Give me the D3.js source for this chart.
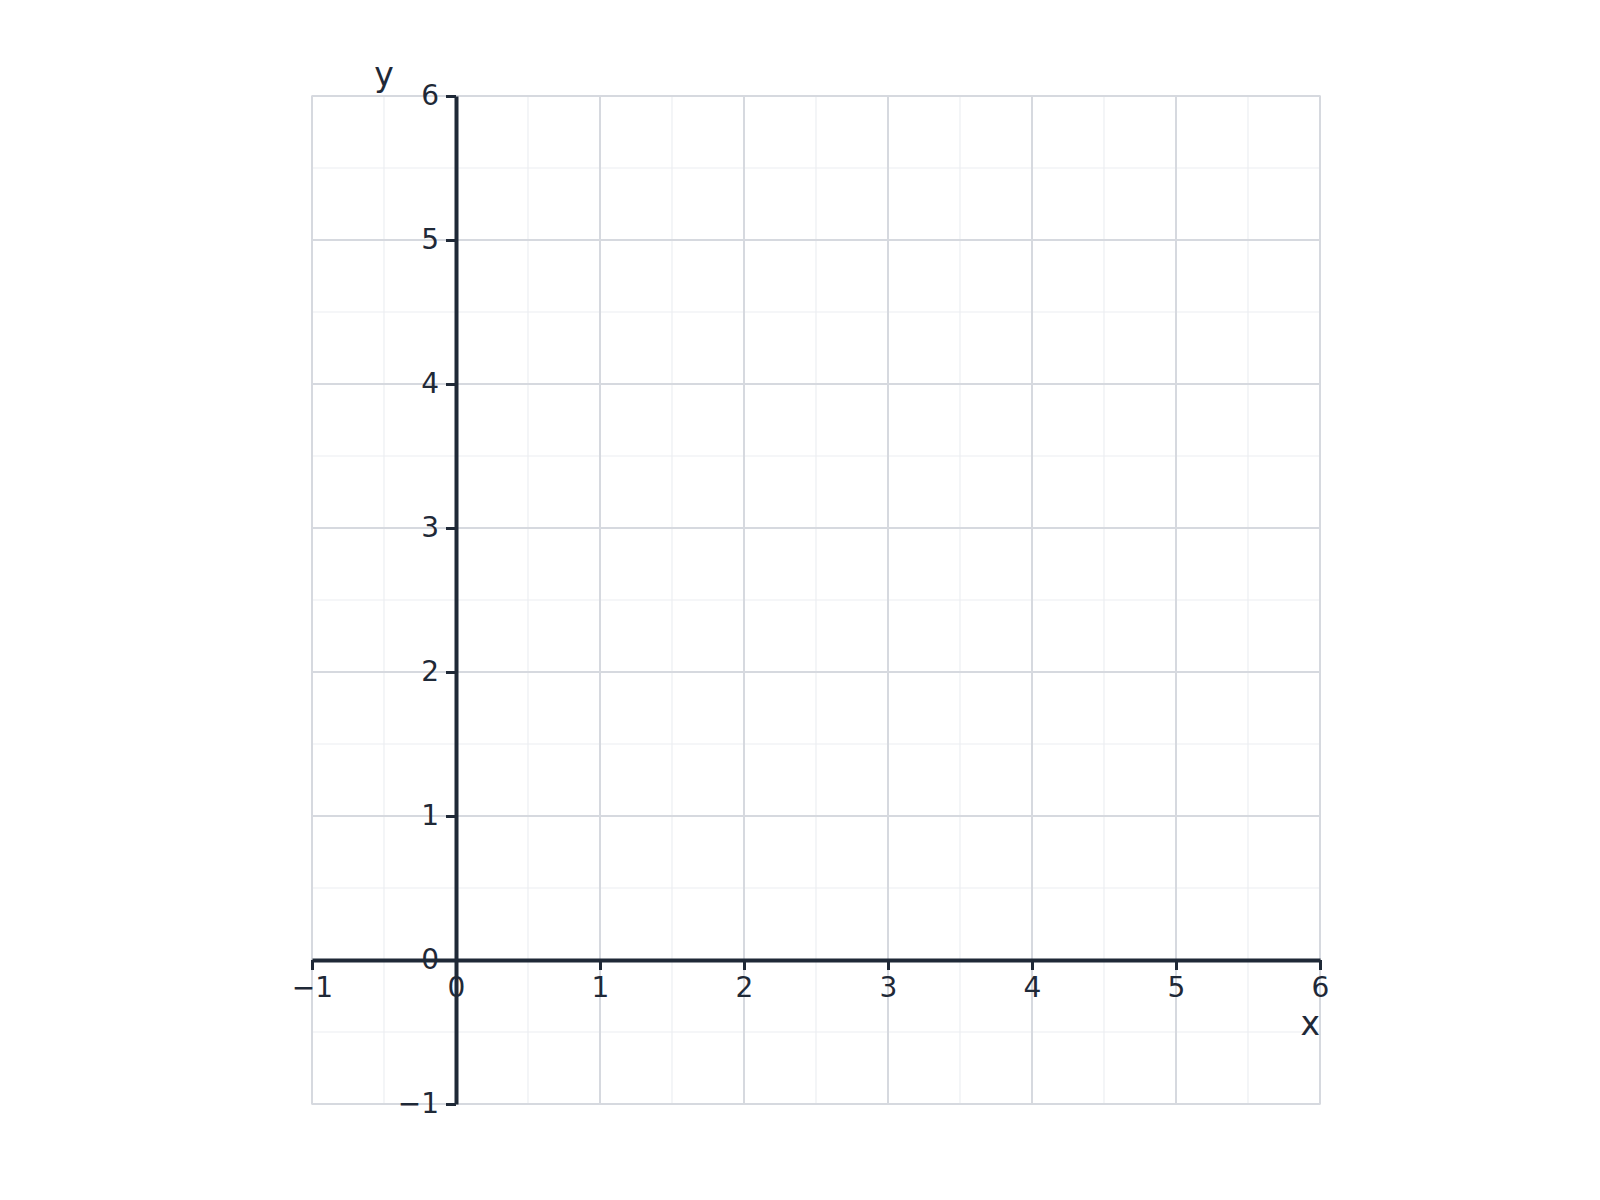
<!DOCTYPE html>
<html>
<head>
<meta charset="utf-8">
<script src="https://cdn.jsdelivr.net/npm/d3@7"></script>
<style>
  body { margin: 0; background: #fff; }
  text { font-family: "DejaVu Sans", sans-serif; fill: #1f2937; }
</style>
</head>
<body>
<div id="chart"></div>
<script>
    // axis ranges and ticks
    var xDomain = [-1, 6];
    var yDomain = [-1, 6];
    var xTicks = [-1, 0, 1, 2, 3, 4, 5, 6];
    var yTicks = [-1, 0, 1, 2, 3, 4, 5, 6];
    var xMinor = [-0.5, 0.5, 1.5, 2.5, 3.5, 4.5, 5.5];
    var yMinor = [-0.5, 0.5, 1.5, 2.5, 3.5, 4.5, 5.5];
    var xTitle = "x";
    var yTitle = "y";

    var svgWidth = 1600;
    var svgHeight = 1200;

    var margin = { top: 96, left: 312, right: 280, bottom: 96 };
    var width = svgWidth - margin.left - margin.right;
    var height = svgHeight - margin.top - margin.bottom;

    var svg = d3.select("#chart")
        .append("svg")
        .attr("width", svgWidth)
        .attr("height", svgHeight);

    var chartGroup = svg.append("g")
        .attr("transform", `translate(${margin.left}, ${margin.top})`);

    var x = d3.scaleLinear().domain(xDomain).range([0, width]);
    var y = d3.scaleLinear().domain(yDomain).range([height, 0]);

    var axisColor = "#1f2937";

    // minor grid
    chartGroup.append("g").selectAll("line")
        .data(xMinor).enter().append("line")
        .attr("x1", d => x(d)).attr("x2", d => x(d))
        .attr("y1", 0).attr("y2", height)
        .attr("stroke", "#eceef2").attr("stroke-width", 1.2);
    chartGroup.append("g").selectAll("line")
        .data(yMinor).enter().append("line")
        .attr("y1", d => y(d)).attr("y2", d => y(d))
        .attr("x1", 0).attr("x2", width)
        .attr("stroke", "#eceef2").attr("stroke-width", 1.2);

    // major grid
    chartGroup.append("g").selectAll("line")
        .data(xTicks).enter().append("line")
        .attr("x1", d => x(d)).attr("x2", d => x(d))
        .attr("y1", 0).attr("y2", height)
        .attr("stroke", "#d6d9df").attr("stroke-width", 2);
    chartGroup.append("g").selectAll("line")
        .data(yTicks).enter().append("line")
        .attr("y1", d => y(d)).attr("y2", d => y(d))
        .attr("x1", 0).attr("x2", width)
        .attr("stroke", "#d6d9df").attr("stroke-width", 2);

    // frame
    chartGroup.append("rect")
        .attr("x", 0).attr("y", 0)
        .attr("width", width).attr("height", height)
        .attr("fill", "none")
        .attr("stroke", "#d6d9df")
        .attr("stroke-width", 1.5);

    var fmt = d => d < 0 ? "\u2212" + Math.abs(d) : String(d);

    // x axis through y = 0
    var xAxis = d3.axisBottom(x)
        .tickValues(xTicks)
        .tickFormat(fmt)
        .tickSizeInner(10)
        .tickSizeOuter(0)
        .tickPadding(7);

    var xAxisG = chartGroup.append("g")
        .attr("transform", `translate(0, ${y(0)})`)
        .call(xAxis);

    // y axis through x = 0
    var yAxis = d3.axisLeft(y)
        .tickValues(yTicks)
        .tickFormat(fmt)
        .tickSizeInner(10)
        .tickSizeOuter(0)
        .tickPadding(7);

    var yAxisG = chartGroup.append("g")
        .attr("transform", `translate(${x(0)}, 0)`)
        .call(yAxis);

    [xAxisG, yAxisG].forEach(function(g) {
        g.attr("font-size", null).attr("font-family", null);
        g.select(".domain")
            .attr("stroke", axisColor)
            .attr("stroke-width", 4);
        g.selectAll(".tick line")
            .attr("stroke", axisColor)
            .attr("stroke-width", 3);
        g.selectAll(".tick text")
            .attr("fill", axisColor)
            .style("font-family", "DejaVu Sans, sans-serif")
            .style("font-size", "28px");
    });

    // axis titles
    chartGroup.append("text")
        .attr("x", width)
        .attr("y", y(0) + 75)
        .attr("text-anchor", "end")
        .style("font-size", "33px")
        .text(xTitle);

    chartGroup.append("text")
        .attr("x", x(-0.5))
        .attr("y", -10)
        .attr("text-anchor", "middle")
        .style("font-size", "33px")
        .text(yTitle);
</script>
</body>
</html>
